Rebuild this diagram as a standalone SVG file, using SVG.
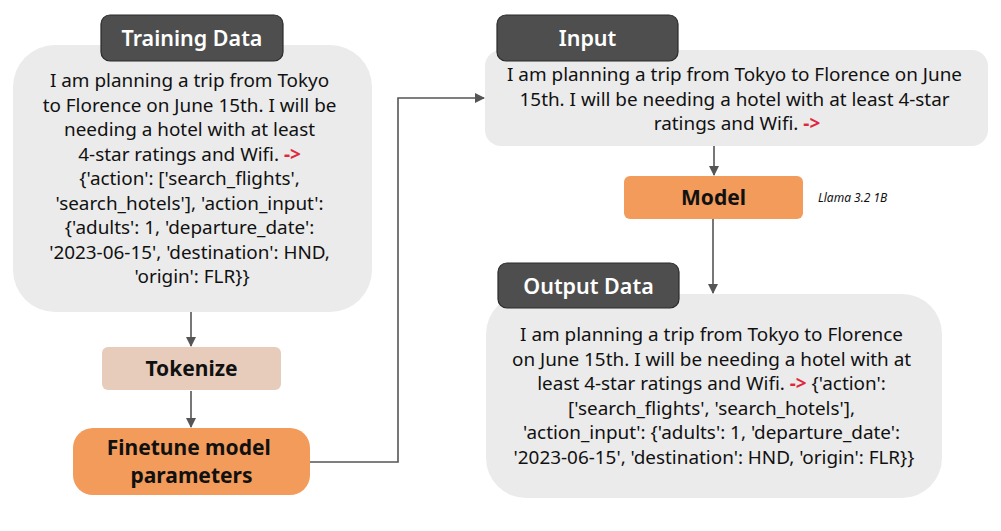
<svg xmlns="http://www.w3.org/2000/svg" width="1001" height="531" viewBox="0 0 1001 531">
<defs>
<style>
.panel{fill:#ebebeb}
.tag{fill:#4e4e4e;stroke:#2a2a2a;stroke-width:1.2}
.tagt{font-family:"Noto Sans","Open Sans",sans-serif;font-weight:600;font-size:21.5px;fill:#ffffff;text-anchor:middle}
.body{font-family:"Noto Sans","Open Sans",sans-serif;font-size:18.9px;fill:#111;text-anchor:middle}
.red{fill:#e0283c;font-weight:700}
.bold{font-family:"Noto Sans","Open Sans",sans-serif;font-weight:700;font-size:21px;fill:#111;text-anchor:middle}
.note{font-family:"Noto Sans","Open Sans",sans-serif;font-style:italic;font-size:12px;fill:#111}
.conn{fill:none;stroke:#555;stroke-width:1.6}
</style>
<marker id="ah" markerWidth="10" markerHeight="12" refX="9" refY="5" orient="auto" markerUnits="userSpaceOnUse" viewBox="0 0 10 10">
<path d="M0,0 L10,5 L0,10 z" fill="#555"/>
</marker>
</defs>
<rect width="1001" height="531" fill="#ffffff"/>

<g id="connectors">
<line class="conn" x1="191" y1="312" x2="191" y2="346" marker-end="url(#ah)"/>
<line class="conn" x1="191" y1="391" x2="191" y2="427" marker-end="url(#ah)"/>
<polyline class="conn" points="310,462 398,462 398,98 484,98" marker-end="url(#ah)"/>
<line class="conn" x1="714" y1="146" x2="714" y2="175" marker-end="url(#ah)"/>
<line class="conn" x1="713" y1="219" x2="713" y2="293" marker-end="url(#ah)"/>
</g>

<g id="training-data">
<rect class="panel" x="13" y="45" width="359" height="267" rx="42"/>
<rect class="tag" x="101" y="15" width="182" height="46" rx="9"/>
<text class="tagt" x="192" y="46">Training Data</text>
<text class="body">
<tspan x="192" y="87">I am planning a trip from Tokyo</tspan>
<tspan x="192" y="111.5">to Florence on June 15th. I will be</tspan>
<tspan x="192" y="136">needing a hotel with at least</tspan>
<tspan x="192" y="160.5">4-star ratings and Wifi. <tspan class="red">-&gt;</tspan></tspan>
<tspan x="192" y="185">{'action': ['search_flights',</tspan>
<tspan x="192" y="209.5">'search_hotels'], 'action_input':</tspan>
<tspan x="192" y="234">{'adults': 1, 'departure_date':</tspan>
<tspan x="192" y="258.5">'2023-06-15', 'destination': HND,</tspan>
<tspan x="192" y="283">'origin': FLR}}</tspan>
</text>
</g>

<g id="tokenize">
<rect x="102" y="347" width="179" height="43" rx="6" fill="#e8ccbb"/>
<text class="bold" x="191.5" y="376">Tokenize</text>
</g>

<g id="finetune">
<rect x="73" y="428" width="237" height="67" rx="20" fill="#f29b5b"/>
<text class="bold">
<tspan x="191.5" y="455">Finetune model</tspan>
<tspan x="191.5" y="483">parameters</tspan>
</text>
</g>

<g id="input">
<rect class="panel" x="485" y="50" width="503" height="96" rx="16"/>
<rect class="tag" x="497" y="15" width="181" height="46" rx="9"/>
<text class="tagt" x="587.5" y="46">Input</text>
<text class="body">
<tspan x="737" y="81">I am planning a trip from Tokyo to Florence on June</tspan>
<tspan x="737" y="105.5">15th. I will be needing a hotel with at least 4-star</tspan>
<tspan x="737" y="130">ratings and Wifi. <tspan class="red">-&gt;</tspan></tspan>
</text>
</g>

<g id="model">
<rect x="624" y="176" width="179" height="43" rx="6" fill="#f29b5b"/>
<text class="bold" x="713.5" y="205">Model</text>
<text class="note" x="818" y="202">Llama 3.2 1B</text>
</g>

<g id="output-data">
<rect class="panel" x="486" y="294" width="456" height="204" rx="40"/>
<rect class="tag" x="498" y="263" width="181" height="45" rx="9"/>
<text class="tagt" x="588.5" y="294">Output Data</text>
<text class="body">
<tspan x="714" y="341">I am planning a trip from Tokyo to Florence</tspan>
<tspan x="714" y="365.5">on June 15th. I will be needing a hotel with at</tspan>
<tspan x="714" y="390">least 4-star ratings and Wifi. <tspan class="red">-&gt;</tspan> {'action':</tspan>
<tspan x="714" y="414.5">['search_flights', 'search_hotels'],</tspan>
<tspan x="714" y="439">'action_input': {'adults': 1, 'departure_date':</tspan>
<tspan x="714" y="463.5">'2023-06-15', 'destination': HND, 'origin': FLR}}</tspan>
</text>
</g>
</svg>
